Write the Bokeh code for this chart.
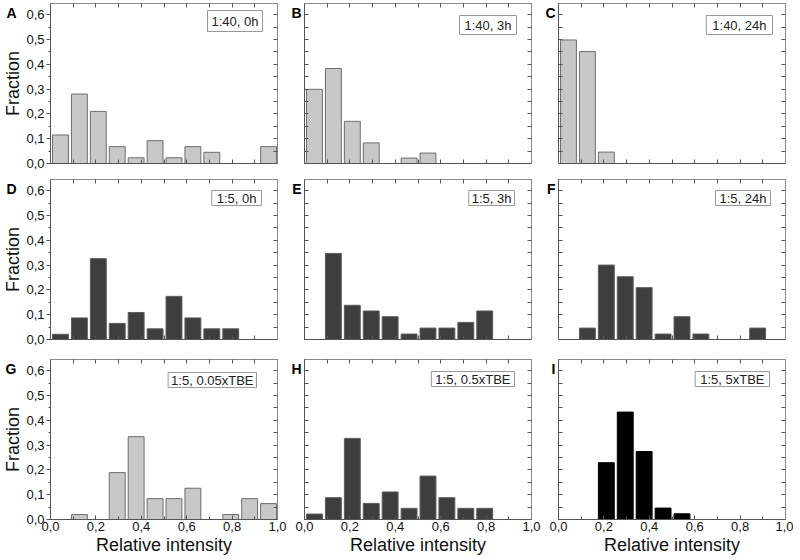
from bokeh.plotting import figure
from bokeh.layouts import column, row
from bokeh.models import (ColumnDataSource, Range1d, LinearAxis, FixedTicker,
                          Label, CustomJSTickFormatter)
from bokeh.transform import dodge
from bokeh.embed import file_html
from bokeh.resources import INLINE

# ---------------- data ----------------
bin_start = [0.0, 0.0833, 0.1667, 0.25, 0.3333, 0.4167, 0.5, 0.5833, 0.6667, 0.75, 0.8333, 0.9167]

frac_A = [0.115, 0.280, 0.210, 0.068, 0.023, 0.092, 0.023, 0.068, 0.045, 0.0, 0.0, 0.068]
frac_B = [0.299, 0.383, 0.170, 0.083, 0.0, 0.022, 0.042, 0.0, 0.0, 0.0, 0.0, 0.0]
frac_C = [0.498, 0.451, 0.046, 0.0, 0.0, 0.0, 0.0, 0.0, 0.0, 0.0, 0.0, 0.0]
frac_D = [0.021, 0.087, 0.326, 0.065, 0.109, 0.043, 0.174, 0.087, 0.043, 0.043, 0.0, 0.0]
frac_E = [0.0, 0.347, 0.138, 0.115, 0.092, 0.022, 0.046, 0.046, 0.069, 0.115, 0.0, 0.0]
frac_F = [0.0, 0.046, 0.300, 0.253, 0.209, 0.022, 0.092, 0.022, 0.0, 0.0, 0.046, 0.0]
frac_G = [0.0, 0.020, 0.0, 0.189, 0.334, 0.084, 0.084, 0.126, 0.0, 0.020, 0.084, 0.064]
frac_H = [0.022, 0.088, 0.327, 0.065, 0.111, 0.045, 0.175, 0.088, 0.045, 0.045, 0.0, 0.0]
frac_I = [0.0, 0.0, 0.229, 0.433, 0.274, 0.046, 0.023, 0.0, 0.0, 0.0, 0.0, 0.0]

series = [frac_A, frac_B, frac_C, frac_D, frac_E, frac_F, frac_G, frac_H, frac_I]
letters = ["A", "B", "C", "D", "E", "F", "G", "H", "I"]
box_texts = ["1:40, 0h", "1:40, 3h", "1:40, 24h",
             "1:5, 0h", "1:5, 3h", "1:5, 24h",
             "1:5, 0.05xTBE", "1:5, 0.5xTBE", "1:5, 5xTBE"]
x_title = "Relative intensity"
y_title = "Fraction"

x_major = [0.0, 0.2, 0.4, 0.6, 0.8, 1.0]
x_minor = [0.1, 0.3, 0.5, 0.7, 0.9]
x_all = [0.0, 0.1, 0.2, 0.3, 0.4, 0.5, 0.6, 0.7, 0.8, 0.9, 1.0]
y_major = [0.0, 0.1, 0.2, 0.3, 0.4, 0.5, 0.6]
y_minor = [0.05, 0.15, 0.25, 0.35, 0.45, 0.55]
y_all = [0.0, 0.05, 0.1, 0.15, 0.2, 0.25, 0.3, 0.35, 0.4, 0.45, 0.5, 0.55, 0.6]

# ---------------- style ----------------
FONT = "Liberation Sans"
LIGHT = ("#c8c8c8", "#6e6e6e")
DARK = ("#3e3e3e", "#5c5c5c")
BLACK = ("#000000", "#000000")
bar_colors = [LIGHT, LIGHT, LIGHT, DARK, DARK, DARK, LIGHT, DARK, BLACK]
AX = "#555555"
FRAME = "#8a8a8a"

FW, FH = 227, 160
Y_TOP = 0.645
LEFT = [44, 17, 17]
RIGHT = [10, 10, 8]
TOP = [3, 9, 12]
BOTTOM = [7, 8, 38]
# text box: (right inset, top inset, pad_h, pad_v)
box_pos = [(15, 7, 4, 3), (15, 12, 5, 2), (13, 12, 6, 2),
           (16, 11, 5, 0), (17, 11, 3, 0), (15, 11, 4, 0),
           (21, 13, 3, 0), (17, 12, 4, 0), (16, 12, 5, 0)]

comma_fmt = "return tick.toFixed(1).replace('.', ',');"


def base_axis(ax):
    ax.axis_line_color = AX
    ax.major_tick_line_color = AX
    ax.minor_tick_line_color = AX
    ax.major_label_text_font = FONT
    ax.major_label_text_color = "#111111"
    ax.major_label_text_font_size = "13px"
    ax.major_label_standoff = 2
    ax.axis_label_text_font = FONT
    ax.axis_label_text_font_size = "18px"
    ax.axis_label_text_font_style = "normal"
    ax.axis_label_text_color = "#111111"


def plain_axis(ax, ticks, line_color=AX):
    """axis with inward tick marks only, no tick labels"""
    base_axis(ax)
    ax.axis_line_color = line_color
    ax.ticker = FixedTicker(ticks=[], minor_ticks=ticks)
    ax.minor_tick_in, ax.minor_tick_out = 4, 0
    ax.major_tick_in, ax.major_tick_out = 0, 0
    ax.major_label_standoff = 0


def label_axis(ax, major, minor, out=False):
    base_axis(ax)
    ax.ticker = FixedTicker(ticks=major, minor_ticks=minor)
    ax.formatter = CustomJSTickFormatter(code=comma_fmt)
    if out:
        ax.major_tick_in, ax.major_tick_out = 0, 4
        ax.minor_tick_in, ax.minor_tick_out = 0, 2
    else:
        ax.major_tick_in, ax.major_tick_out = 4, 0
        ax.minor_tick_in, ax.minor_tick_out = 3, 0


def letter_style(ax, letter, standoff):
    # the label is centred on the frame's top edge; an empty first line
    # pushes the visible letter just below that edge
    ax.axis_label = "\n" + letter
    ax.axis_label_orientation = "horizontal"
    ax.axis_label_align = "end"
    ax.axis_label_standoff = standoff
    ax.axis_label_text_font = FONT
    ax.axis_label_text_font_size = "14px"
    ax.axis_label_text_font_style = "bold"
    ax.axis_label_text_color = "#000000"


panels = []
for i in range(9):
    r, c = divmod(i, 3)
    p = figure(frame_width=FW, frame_height=FH, x_range=Range1d(0, 1), y_range=Range1d(0, Y_TOP),
               output_backend="svg", toolbar_location=None,
               min_border_left=LEFT[c], min_border_right=RIGHT[c],
               min_border_top=TOP[r], min_border_bottom=BOTTOM[r])
    p.grid.visible = False
    p.outline_line_color = FRAME
    p.background_fill_color = "white"
    p.border_fill_color = "white"

    xs = [b for b, v in zip(bin_start, series[i]) if v > 0]
    vs = [v for v in series[i] if v > 0]
    src = ColumnDataSource(dict(bin=xs, frac=vs))
    fill, line = bar_colors[i]
    p.vbar(x=dodge("bin", 0.044, range=p.x_range), top="frac", bottom=0, width=0.07,
           source=src, fill_color=fill, line_color=line, line_width=1)

    xa = p.xaxis[0]
    if r == 2:
        label_axis(xa, x_major, x_minor)
        xa.axis_label = x_title
        xa.axis_label_standoff = 1
    else:
        plain_axis(xa, x_all)

    ya = p.yaxis[0]
    if c == 0:
        label_axis(ya, y_major, y_minor, out=True)
        ya.axis_label = y_title
        ya.axis_label_standoff = 0
        # panel letter on an outer, tick-less axis
        la = LinearAxis(ticker=FixedTicker(ticks=[], minor_ticks=[]))
        base_axis(la)
        la.axis_line_color = None
        la.major_tick_line_color = None
        la.minor_tick_line_color = None
        la.major_label_standoff = 0
        letter_style(la, letters[i], -16)
        p.add_layout(la, "left")
    else:
        plain_axis(ya, y_all)
        letter_style(ya, letters[i], 3)

    top_ax = LinearAxis()
    plain_axis(top_ax, x_all, FRAME)
    p.add_layout(top_ax, "above")
    right_ax = LinearAxis()
    plain_axis(right_ax, y_all, FRAME)
    p.add_layout(right_ax, "right")

    ri, ti, ph, pv = box_pos[i]
    p.add_layout(Label(x=1.0, y=Y_TOP, text=box_texts[i], x_offset=-ri, y_offset=-ti,
                       text_align="right", text_baseline="top", padding=(ph, pv),
                       text_font=FONT, text_font_size="13px", text_color="#222222",
                       border_line_color="#999999", border_line_width=1,
                       background_fill_color="white"))
    panels.append(p)

layout = column(row(*panels[0:3]), row(*panels[3:6]), row(*panels[6:9]))
open("out.html", "w").write(file_html(layout, INLINE))
